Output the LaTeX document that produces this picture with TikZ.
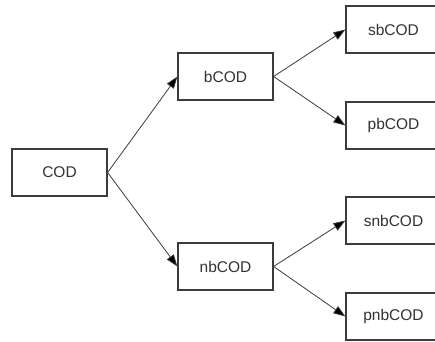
\documentclass[tikz,border=0pt]{standalone}
\usepackage{fontspec}
\setmainfont{Liberation Sans}
\usetikzlibrary{arrows.meta}
\definecolor{edgegray}{HTML}{3C3C3C}
\definecolor{textgray}{HTML}{333333}
\begin{document}
\begin{tikzpicture}[x=1pt,y=-1pt,
  box/.style={draw=edgegray, line width=1.2pt, fill=white, minimum width=95pt,
    minimum height=47pt, inner sep=0pt, text=textgray, font=\fontsize{15.5}{18}\selectfont},
  link/.style={draw=edgegray, line width=0.8pt, -{Triangle[length=12pt,width=8.5pt,fill=black]}}]
  \useasboundingbox (0,0) rectangle (435,341);
  \clip (0,0) rectangle (435,341);
  \node[box] (cod)    at (59.5,172.5) {COD};
  \node[box] (bcod)   at (225.5,76.5) {bCOD};
  \node[box] (nbcod)  at (225.5,266.5) {nbCOD};
  \node[box] (sbcod)  at (393.5,29.5) {sbCOD};
  \node[box] (pbcod)  at (393.5,125.5) {pbCOD};
  \node[box] (snbcod) at (393.5,220.5) {snbCOD};
  \node[box] (pnbcod) at (393.5,316.5) {pnbCOD};
  \draw[link] (cod.east) -- (bcod.west);
  \draw[link] (cod.east) -- (nbcod.west);
  \draw[link] (bcod.east) -- (sbcod.west);
  \draw[link] (bcod.east) -- (pbcod.west);
  \draw[link] (nbcod.east) -- (snbcod.west);
  \draw[link] (nbcod.east) -- (pnbcod.west);
\end{tikzpicture}
\end{document}
